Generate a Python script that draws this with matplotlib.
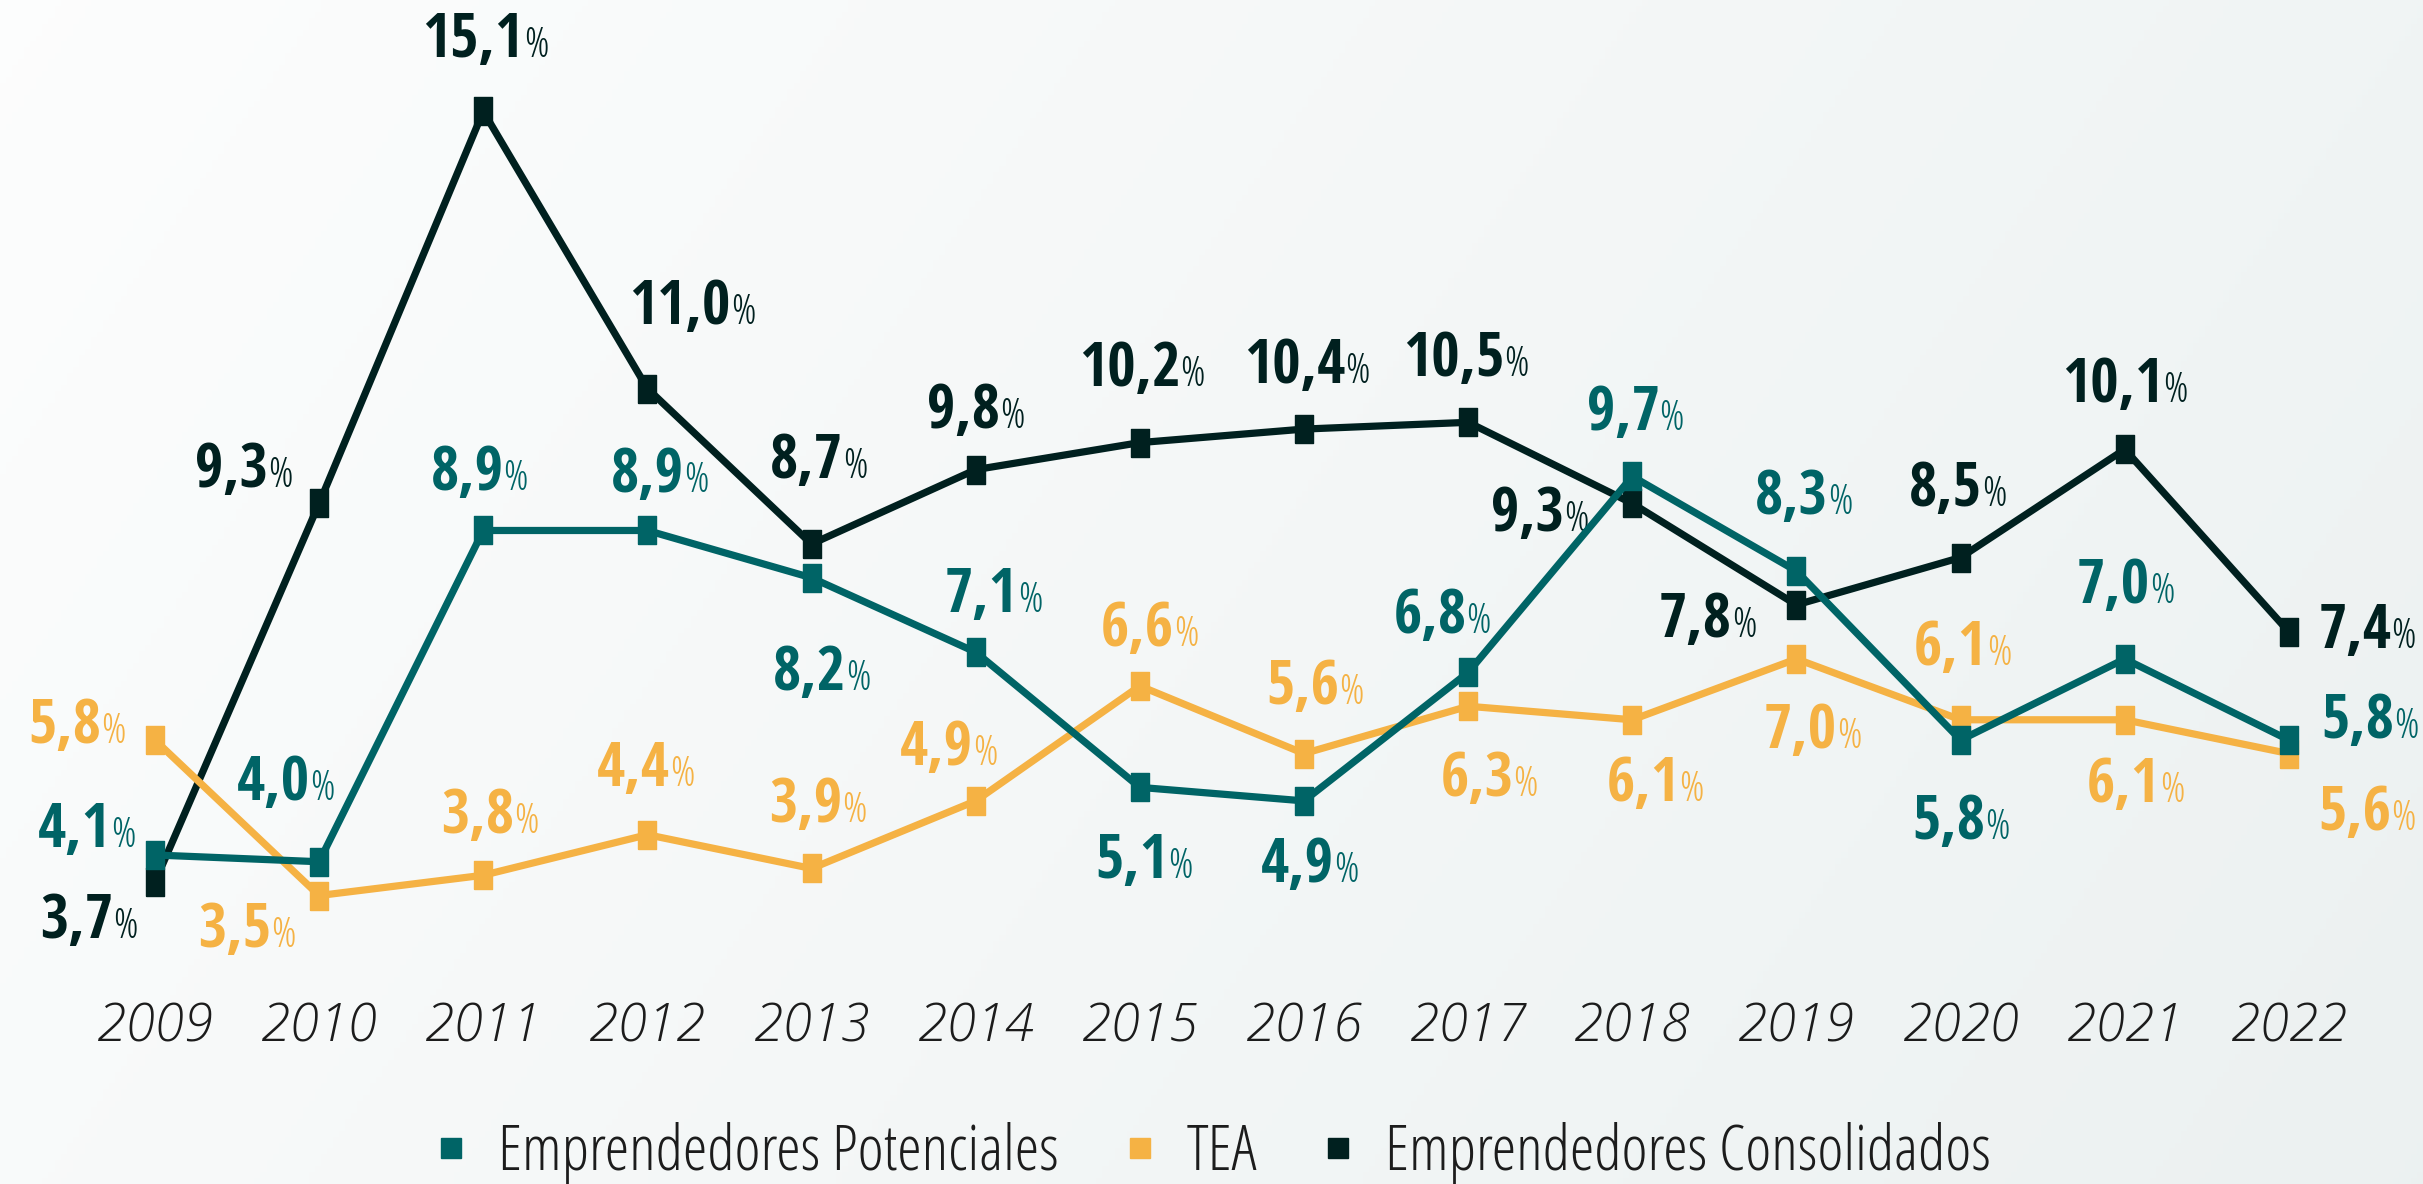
import os
import matplotlib
matplotlib.use('Agg')
import matplotlib.pyplot as plt
import numpy as np
from matplotlib import font_manager
from matplotlib.font_manager import FontProperties
from matplotlib.lines import Line2D
from matplotlib.offsetbox import TextArea, HPacker, AnnotationBbox

years = list(range(2009, 2023))
potenciales = [4.1, 4.0, 8.9, 8.9, 8.2, 7.1, 5.1, 4.9, 6.8, 9.7, 8.3, 5.8, 7.0, 5.8]
tea = [5.8, 3.5, 3.8, 4.4, 3.9, 4.9, 6.6, 5.6, 6.3, 6.1, 7.0, 6.1, 6.1, 5.6]
consolidados = [3.7, 9.3, 15.1, 11.0, 8.7, 9.8, 10.2, 10.4, 10.5, 9.3, 7.8, 8.5, 10.1, 7.4]
series_names = ['Emprendedores Potenciales', 'TEA', 'Emprendedores Consolidados']

# label offsets in pixels (dx right, dy down) relative to each point
off_pot = [(-68, -23), (-33, -77), (-4, -56), (12, -54), (10, 97), (18, -56), (4, 75),
           (6, 66), (-26, -55), (3, -62), (7, -73), (0, 83), (1, -71), (81, -18)]
off_tea = [(-78, -13), (-72, 36), (7, -58), (-2, -64), (6, -62), (-27, -51), (10, -55),
           (11, -65), (21, 74), (23, 66), (16, 74), (2, -70), (11, 67), (78, 61)]
off_con = [(-66, 40), (-75, -32), (2, -70), (45, -80), (7, -82), (0, -57), (2, -72),
           (3, -62), (-2, -62), (-92, 12), (-89, 17), (-3, -67), (0, -63), (78, 1)]

TEAL = '#006466'
ORANGE = '#F5B244'
DARK = '#00201F'
TXT = '#1c1c1c'

files = {os.path.basename(f.fname): f.fname for f in font_manager.fontManager.ttflist}


def font(fname, size, fallback_weight='normal', fallback_style='normal'):
    if fname in files:
        return FontProperties(fname=files[fname], size=size)
    return FontProperties(family='Liberation Sans', weight=fallback_weight,
                          style=fallback_style, size=size)


f_num = font('OpenSans-CondBold.ttf', 44, 'bold')
f_pct = font('OpenSans-CondLight.ttf', 30)
f_year = font('OpenSans-LightItalic.ttf', 38, fallback_style='italic')
f_leg = font('OpenSans-CondLight.ttf', 45)

# tall rectangular marker
rect = [(-2, -3), (2, -3), (2, 3), (-2, 3), (-2, -3)]

fig = plt.figure(figsize=(24.23, 11.84), dpi=100)

# background gradient
bg = fig.add_axes([0, 0, 1, 1], zorder=-10)
gx, gy = np.meshgrid(np.linspace(0, 1, 400), np.linspace(0, 1, 200))
t = np.clip(0.75 * gx + 0.25 * gy, 0, 1)[..., None]
c0 = np.array([0.99, 0.993, 0.993])
c1 = np.array([0.925, 0.945, 0.945])
bg.imshow(c0 * (1 - t) + c1 * t, aspect='auto', extent=[0, 1, 0, 1], origin='upper')
bg.axis('off')

ax = fig.add_axes([0, 0, 1, 1])
ax.patch.set_alpha(0)
ax.axis('off')
ax.set_xlim(2008.056, 2022.817)
ax.set_ylim(-0.767, 16.747)

ax.plot(years, consolidados, color=DARK, lw=5.2, marker=rect, ms=19.5, zorder=2)
ax.plot(years, tea, color=ORANGE, lw=5.2, marker=rect, ms=19.5, zorder=3)
ax.plot(years, potenciales, color=TEAL, lw=5.2, marker=rect, ms=19.5, zorder=4)


def fmt(v):
    return ('%.1f' % v).replace('.', ',')


def put_label(x, y, v, off, col):
    num = TextArea(fmt(v), textprops=dict(color=col, fontproperties=f_num))
    pct = TextArea('%', textprops=dict(color=col, fontproperties=f_pct))
    box = HPacker(children=[num, pct], align='baseline', pad=0, sep=0)
    ab = AnnotationBbox(box, (x, y), xybox=(off[0] * 0.72, -off[1] * 0.72),
                        boxcoords='offset points', frameon=False,
                        box_alignment=(0.5, 0.5), pad=0)
    ax.add_artist(ab)


for vals, offs, col in [(consolidados, off_con, DARK), (potenciales, off_pot, TEAL),
                        (tea, off_tea, ORANGE)]:
    for yr, v, o in zip(years, vals, offs):
        put_label(yr, v, v, o, col)

for yr in years:
    ax.text(yr, 1 - 1028 / 1184, str(yr), transform=ax.get_xaxis_transform(),
            ha='center', va='center', fontproperties=f_year, color=TXT)

handles = [Line2D([], [], ls='none', marker='s', ms=14, color=c) for c in (TEAL, ORANGE, DARK)]
leg = fig.legend(handles, series_names, loc='center', bbox_to_anchor=(0.5, 0.026),
                 ncol=3, frameon=False, handlelength=0.6, handletextpad=0.45,
                 columnspacing=1.0, prop=f_leg)
for txt in leg.get_texts():
    txt.set_color(TXT)

fig.savefig('out.png', dpi=100)
